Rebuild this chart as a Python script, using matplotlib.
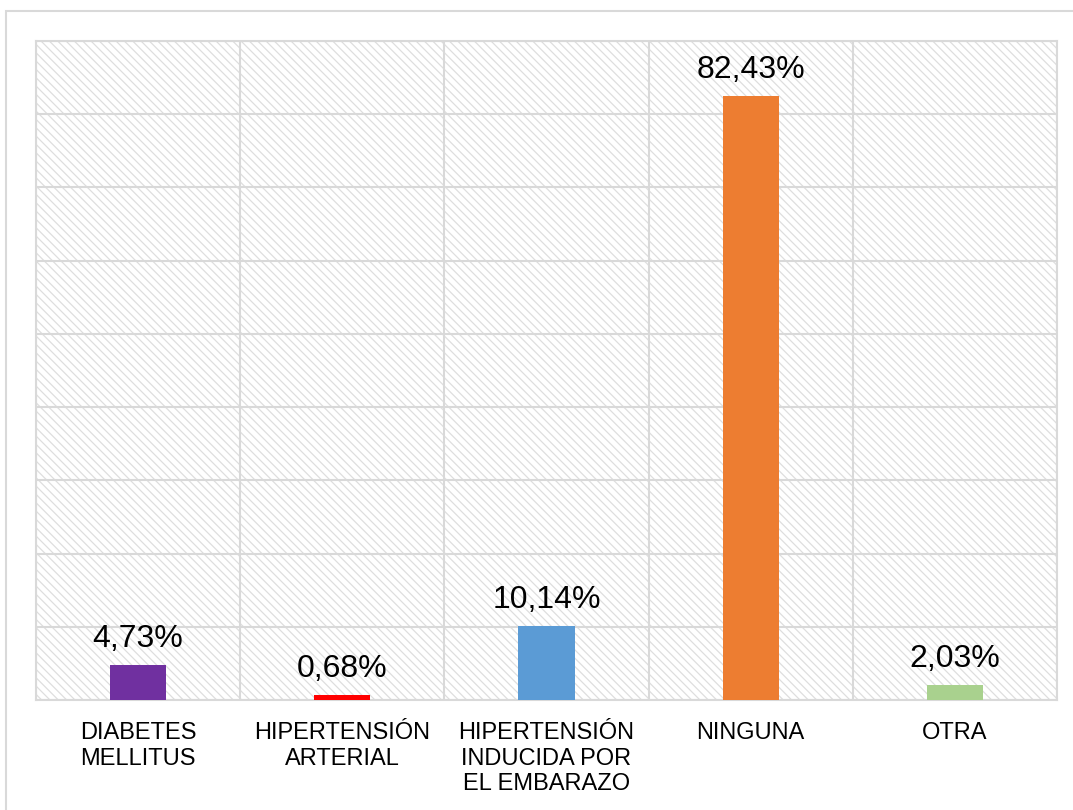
import matplotlib.pyplot as plt
import numpy as np
from matplotlib.patches import Rectangle

# data
categorias = ['DIABETES\nMELLITUS', 'HIPERTENSIÓN\nARTERIAL',
              'HIPERTENSIÓN\nINDUCIDA POR\nEL EMBARAZO', 'NINGUNA', 'OTRA']
valores = [4.73, 0.68, 10.14, 82.43, 2.03]
colores = ['#7030A0', '#FF0000', '#5B9BD5', '#ED7D31', '#A9D18E']

grid_grey = '#d9d9d9'
plt.rcParams['font.family'] = ['Liberation Sans', 'DejaVu Sans']
plt.rcParams['hatch.color'] = '#dedede'
plt.rcParams['hatch.linewidth'] = 0.9

W, H = 1073, 810
fig = plt.figure(figsize=(W/100, H/100), dpi=100)
ax = fig.add_axes([36/W, 1-700/H, (1057-36)/W, (700-41)/H])

# outer chart frame (only top/left visible)
fig.patches.append(Rectangle((6/W, -0.1), 1.2, 1-11/H+0.1, transform=fig.transFigure,
                             fill=False, edgecolor=grid_grey, linewidth=1.5, zorder=0))

# hatched plot background
ax.set_facecolor('white')
ax.add_patch(Rectangle((0, 0), 1, 1, transform=ax.transAxes, facecolor='none',
                       hatch='\\\\\\\\', linewidth=0, zorder=0))

x = np.arange(len(categorias))
bars = ax.bar(x, valores, width=0.275, color=colores, zorder=3)

for xi, v in zip(x, valores):
    ax.annotate(f'{v:.2f}'.replace('.', ',') + '%', xy=(xi, v), xytext=(0, 13),
                textcoords='offset points', ha='center', va='baseline',
                fontsize=23, color='black')

ax.set_xlim(-0.5, len(categorias) - 0.5)
ax.set_ylim(0, 90)
ax.set_yticks(np.arange(0, 91, 10))
ax.set_yticklabels([])
ax.set_xticks(x)
ax.set_xticklabels(categorias, fontsize=17, linespacing=1.2)
ax.set_xticks(np.arange(-0.5, len(categorias), 1), minor=True)
ax.tick_params(axis='both', which='both', length=0)
ax.tick_params(axis='x', which='major', pad=16)
ax.grid(True, axis='y', which='major', color=grid_grey, linewidth=1.5, zorder=1)
ax.grid(True, axis='x', which='minor', color=grid_grey, linewidth=1.5, zorder=1)
for s in ax.spines.values():
    s.set_color(grid_grey)
    s.set_linewidth(1.5)

fig.savefig('out.png', dpi=100, facecolor='white')
